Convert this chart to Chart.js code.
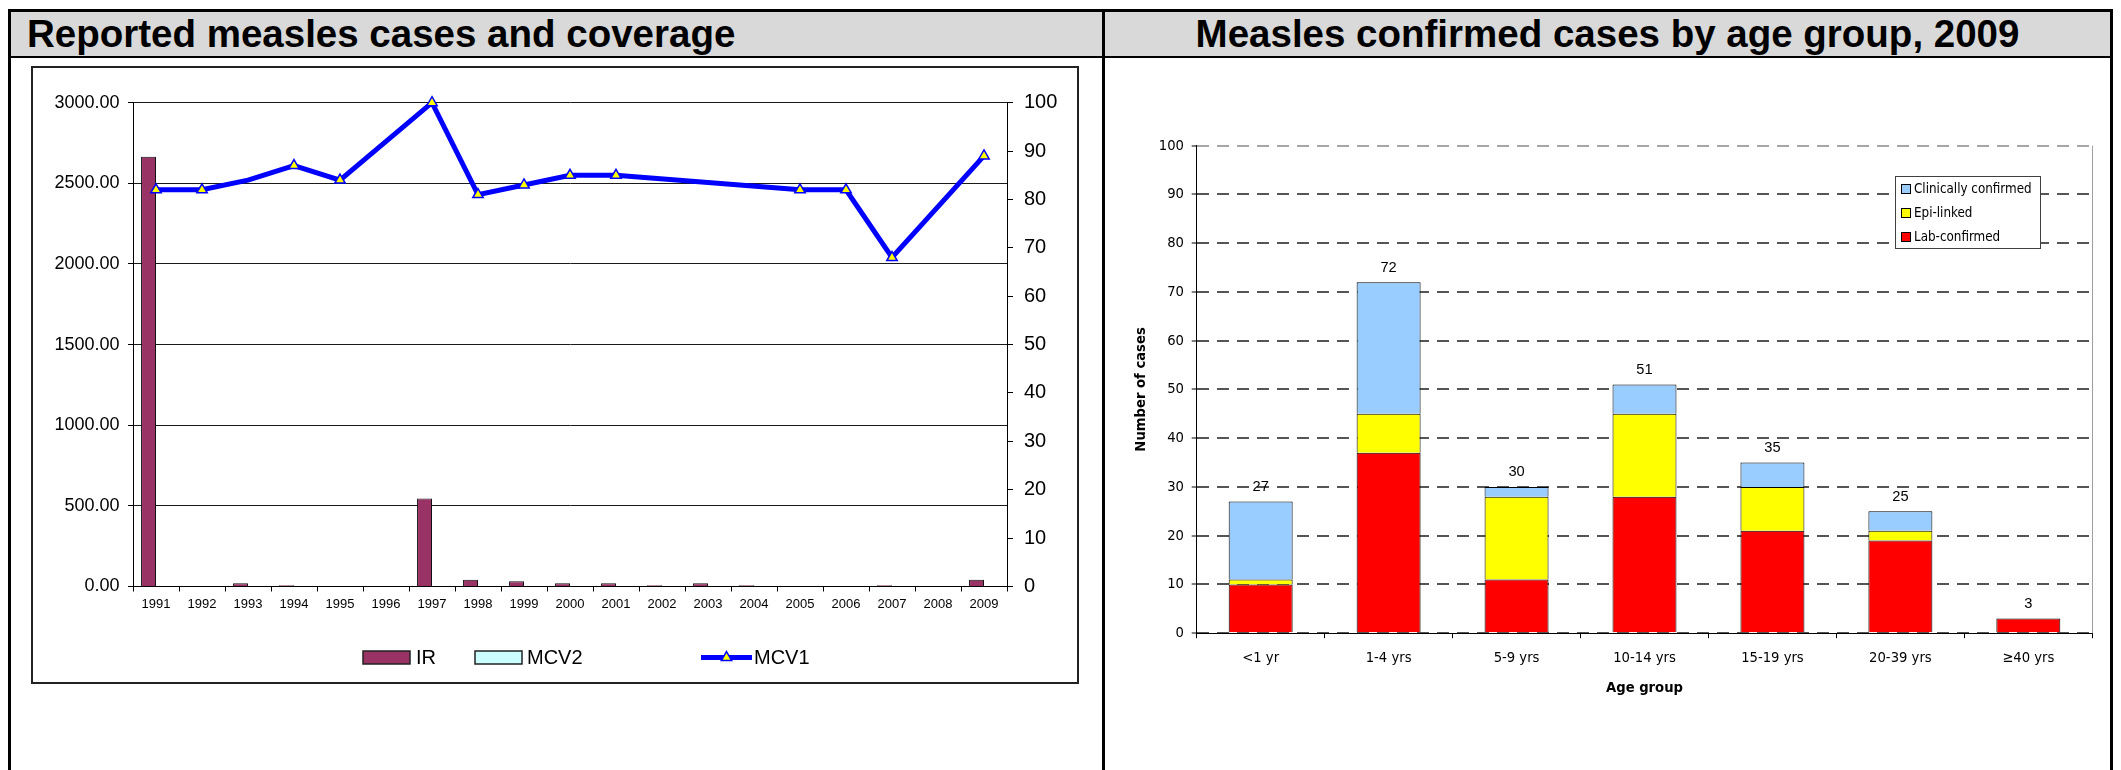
<!DOCTYPE html>
<html>
<head>
<meta charset="utf-8">
<title>Measles</title>
<script src="https://cdn.jsdelivr.net/npm/chart.js@4.4.1/dist/chart.umd.min.js"></script>
<style>
  html, body { margin:0; padding:0; background:#fff; }
  body { width:2121px; height:770px; position:relative; overflow:hidden; font-family:'Liberation Sans', Arial, sans-serif; }
  .abs { position:absolute; }
  #frame { left:8px; top:9px; width:2105px; height:800px; border:3px solid #000; box-sizing:border-box; }
  #headL { left:11px; top:12px; width:1091px; height:44px; background:#d9d9d9; }
  #headR { left:1105px; top:12px; width:1005px; height:44px; background:#d9d9d9; }
  #hline { left:11px; top:56px; width:2099px; height:2px; background:#000; }
  #divider { left:1102px; top:12px; width:3px; height:770px; background:#000; }
  .title { font-weight:bold; font-size:38.5px; line-height:44px; color:#000; white-space:nowrap; }
  #titleL { left:27px; top:12px; }
  #titleR { left:1105px; top:12px; width:1005px; text-align:center; }
  #boxL { left:31px; top:66px; width:1048px; height:618px; border:2px solid #222; box-sizing:border-box; background:#fff; }
  #cL { left:33px; top:68px; }
  #cR { left:1106px; top:59px; }
</style>
</head>
<body>
<div id="frame" class="abs"></div>
<div id="headL" class="abs"></div>
<div id="headR" class="abs"></div>
<div id="hline" class="abs"></div>
<div id="divider" class="abs"></div>
<div id="titleL" class="abs title">Reported measles cases and coverage</div>
<div id="titleR" class="abs title">Measles confirmed cases by age group, 2009</div>
<div id="boxL" class="abs"></div>
<canvas id="cL" class="abs" width="1044" height="614" style="width:1044px;height:614px"></canvas>
<canvas id="cR" class="abs" width="1003" height="711" style="width:1003px;height:711px"></canvas>
<script>
// ---------- Data: left chart ----------
const years = ['1991','1992','1993','1994','1995','1996','1997','1998','1999','2000',
               '2001','2002','2003','2004','2005','2006','2007','2008','2009'];
const irCases = [2665, 0, 20, 8, 0, 0, 545, 42, 32, 20, 20, 8, 20, 8, 0, 0, 8, 0, 42];
const mcv2Coverage = [null, null, null, null, null, null, null, null, null, null,
                      null, null, null, null, null, null, null, null, null];
const mcv1Coverage = [82, 82, 84, 87, 84, null, 100, 81, 83, 85, 85, null, null, null, 82, 82, 68, null, 89];
const mcv1YearsWithoutMarker = ['1993'];

// ---------- Data: right chart ----------
const ageGroups = ['<1 yr', '1-4 yrs', '5-9 yrs', '10-14 yrs', '15-19 yrs', '20-39 yrs', '\u226540 yrs'];
const labConfirmed = [10, 37, 11, 28, 21, 19, 3];
const epiLinked = [1, 8, 17, 17, 9, 2, 0];
const clinicallyConfirmed = [16, 27, 2, 6, 5, 4, 0];

const FONT_A = "'Liberation Sans', Arial, sans-serif";
const FONT_T = "'DejaVu Sans Condensed', 'Liberation Sans', sans-serif";

// ---------- Plugins ----------
const leftLegendPlugin = {
  id: 'leftLegend',
  afterDraw(chart, args, opts) {
    const {ctx, chartArea} = chart;
    const y = chartArea.bottom + opts.offsetY;
    ctx.save();
    ctx.font = opts.font;
    ctx.textBaseline = 'middle';
    ctx.textAlign = 'left';
    chart.data.datasets.forEach((ds, i) => {
      const it = opts.items[i];
      const x = chartArea.left + it.symbol;
      if (ds.type === 'line') {
        ctx.strokeStyle = ds.borderColor;
        ctx.lineWidth = ds.borderWidth;
        ctx.beginPath();
        ctx.moveTo(x, y); ctx.lineTo(x + opts.lineW, y);
        ctx.stroke();
        const cx = x + opts.lineW / 2, r = 6;
        ctx.beginPath();
        ctx.moveTo(cx, y - r);
        ctx.lineTo(cx + r * Math.cos(Math.PI / 6), y + r / 2);
        ctx.lineTo(cx - r * Math.cos(Math.PI / 6), y + r / 2);
        ctx.closePath();
        ctx.fillStyle = ds.pointBackgroundColor;
        ctx.fill();
        ctx.lineWidth = 1.5;
        ctx.strokeStyle = ds.pointBorderColor;
        ctx.stroke();
      } else {
        ctx.fillStyle = ds.backgroundColor;
        ctx.fillRect(x, y - opts.boxH / 2, opts.boxW, opts.boxH);
        ctx.lineWidth = 1.5;
        ctx.strokeStyle = '#222';
        ctx.strokeRect(x, y - opts.boxH / 2, opts.boxW, opts.boxH);
      }
      ctx.fillStyle = '#000';
      ctx.fillText(ds.label, chartArea.left + it.text, y + 1);
    });
    ctx.restore();
  }
};

const rightLegendPlugin = {
  id: 'rightLegend',
  afterDraw(chart, args, opts) {
    const {ctx, chartArea} = chart;
    const bx = chartArea.left + opts.dx, by = chartArea.top + opts.dy;
    ctx.save();
    ctx.fillStyle = '#fff';
    ctx.fillRect(bx, by, opts.w, opts.h);
    ctx.lineWidth = 1;
    ctx.strokeStyle = '#404040';
    ctx.strokeRect(Math.round(bx) + 0.5, Math.round(by) + 0.5, opts.w, opts.h);
    ctx.font = opts.font;
    ctx.textBaseline = 'middle';
    ctx.textAlign = 'left';
    const ds = chart.data.datasets.slice().reverse();
    ds.forEach((d, i) => {
      const cy = by + opts.firstRow + i * opts.rowGap;
      const sx = Math.round(bx + opts.sqX);
      const sy = Math.round(cy - opts.sq / 2);
      ctx.fillStyle = d.backgroundColor;
      ctx.fillRect(sx, sy, opts.sq, opts.sq);
      ctx.strokeStyle = '#000';
      ctx.strokeRect(sx + 0.5, sy + 0.5, opts.sq - 1, opts.sq - 1);
      ctx.fillStyle = '#000';
      ctx.fillText(d.label, bx + opts.textX, cy + 1);
    });
    ctx.restore();
  }
};

const totalsPlugin = {
  id: 'totals',
  afterDatasetsDraw(chart, args, opts) {
    const {ctx} = chart;
    const xs = chart.scales.x, ys = chart.scales.y;
    ctx.save();
    ctx.font = opts.font;
    ctx.fillStyle = '#000';
    ctx.textAlign = 'center';
    ctx.textBaseline = 'middle';
    chart.data.labels.forEach((lab, i) => {
      let total = 0;
      chart.data.datasets.forEach(d => { total += (d.data[i] || 0); });
      const x = xs.getPixelForValue(i);
      const y = ys.getPixelForValue(total);
      ctx.fillText(String(total), x, y - opts.offset);
    });
    ctx.restore();
  }
};

const plotFramePlugin = {
  id: 'plotFrame',
  afterDraw(chart, args, opts) {
    const {ctx, chartArea} = chart;
    ctx.save();
    ctx.strokeStyle = opts.color;
    ctx.lineWidth = 1;
    const x = Math.round(chartArea.right) + 0.5;
    ctx.beginPath();
    ctx.moveTo(x, chartArea.top);
    ctx.lineTo(x, chartArea.bottom);
    ctx.stroke();
    ctx.restore();
  }
};

// ---------- Left chart ----------
new Chart(document.getElementById('cL'), {
  type: 'bar',
  data: {
    labels: years,
    datasets: [
      { type: 'bar', label: 'IR', data: irCases, yAxisID: 'y',
        backgroundColor: '#993366', borderColor: '#111', borderWidth: 1,
        categoryPercentage: 0.65, barPercentage: 1, order: 1 },
      { type: 'bar', label: 'MCV2', data: mcv2Coverage, yAxisID: 'y',
        backgroundColor: '#CCFFFF', borderColor: '#111', borderWidth: 1,
        categoryPercentage: 0.65, barPercentage: 1, order: 1 },
      { type: 'line', label: 'MCV1', data: mcv1Coverage, yAxisID: 'y1',
        borderColor: '#0000FF', borderWidth: 5, tension: 0, spanGaps: true,
        pointStyle: 'triangle',
        pointRadius: c => mcv1YearsWithoutMarker.includes(years[c.dataIndex]) ? 0 : 6,
        pointBackgroundColor: '#FFFF00', pointBorderColor: '#0000FF', pointBorderWidth: 1.5,
        order: 0, clip: false }
    ]
  },
  options: {
    responsive: false, animation: false,
    layout: { padding: { top: 34.7, left: 0, right: 0, bottom: 0 } },
    plugins: {
      legend: { display: false }, tooltip: { enabled: false },
      leftLegend: {
        offsetY: 71, font: "20px " + FONT_A, boxW: 47, boxH: 13, lineW: 51,
        items: [ { symbol: 230, text: 283 }, { symbol: 342, text: 394 }, { symbol: 568, text: 621 } ]
      }
    },
    scales: {
      x: {
        grid: { display: true, offset: true, drawOnChartArea: false, drawTicks: true, tickLength: 5, color: '#000' },
        border: { display: true, color: '#000', width: 1 },
        ticks: { font: { family: FONT_A, size: 13 }, color: '#000', padding: 5.4, maxRotation: 0, autoSkip: false },
        afterFit: s => { s.height = 95.5; }
      },
      y: {
        position: 'left', min: 0, max: 3000,
        ticks: { stepSize: 500, callback: v => Number(v).toFixed(2), font: { family: FONT_A, size: 18 }, color: '#000', padding: 8.5 },
        grid: { color: '#1a1a1a', tickLength: 5, tickColor: '#000' },
        border: { display: true, color: '#000', width: 1 },
        afterFit: s => { s.width = 100; }
      },
      y1: {
        position: 'right', min: 0, max: 100,
        ticks: { stepSize: 10, font: { family: FONT_A, size: 20 }, color: '#000', padding: 11 },
        grid: { drawOnChartArea: false, tickLength: 6, color: '#000' },
        border: { display: true, color: '#000', width: 1 },
        afterFit: s => { s.width = 70; }
      }
    }
  },
  plugins: [leftLegendPlugin]
});

// ---------- Right chart ----------
new Chart(document.getElementById('cR'), {
  type: 'bar',
  data: {
    labels: ageGroups,
    datasets: [
      { label: 'Lab-confirmed', data: labConfirmed, backgroundColor: '#FF0000' },
      { label: 'Epi-linked', data: epiLinked, backgroundColor: '#FFFF00' },
      { label: 'Clinically confirmed', data: clinicallyConfirmed, backgroundColor: '#99CCFF' }
    ]
  },
  options: {
    responsive: false, animation: false,
    datasets: { bar: { borderColor: '#000', borderWidth: 1, barPercentage: 1, categoryPercentage: 0.5 } },
    layout: { padding: { top: 86.7, right: 16.7, left: 0, bottom: 0 } },
    plugins: {
      legend: { display: false }, tooltip: { enabled: false },
      rightLegend: { dx: 698.3, dy: 30, w: 145, h: 72, font: "13.3px " + FONT_T,
                     sqX: 6, sq: 10, textX: 19, firstRow: 13, rowGap: 24 },
      totals: { font: "14.67px " + FONT_A, offset: 14.5 },
      plotFrame: { color: '#a0a0a0' }
    },
    scales: {
      x: {
        stacked: true,
        grid: { display: true, offset: true, drawOnChartArea: false, tickLength: 5, color: '#000' },
        border: { display: true, color: '#000', width: 1 },
        ticks: { font: { family: FONT_T, size: 14.67 }, color: '#000', padding: 11.5, maxRotation: 0, autoSkip: false },
        title: { display: true, text: 'Age group', color: '#000',
                 font: { family: FONT_T, size: 14.67, weight: 'bold' }, padding: { top: 0, bottom: 73 } },
        afterFit: s => { s.height = 136.8; }
      },
      y: {
        stacked: true, min: 0, max: 100,
        ticks: { stepSize: 10, font: { family: FONT_T, size: 14.67 }, color: '#000', padding: 7.7 },
        grid: { color: c => (c.tick && c.tick.value === 100) ? '#a6a6a6' : '#555', lineWidth: 2,
                tickLength: 5, tickColor: '#000', tickWidth: 1 },
        border: { display: true, color: '#000', width: 1, dash: [12, 8] },
        title: { display: true, text: 'Number of cases', color: '#000',
                 font: { family: FONT_T, size: 14.67, weight: 'bold' }, padding: { top: 26, bottom: 0 } },
        afterFit: s => { s.width = 90.7; }
      }
    }
  },
  plugins: [rightLegendPlugin, totalsPlugin, plotFramePlugin]
});
</script>
</body>
</html>
